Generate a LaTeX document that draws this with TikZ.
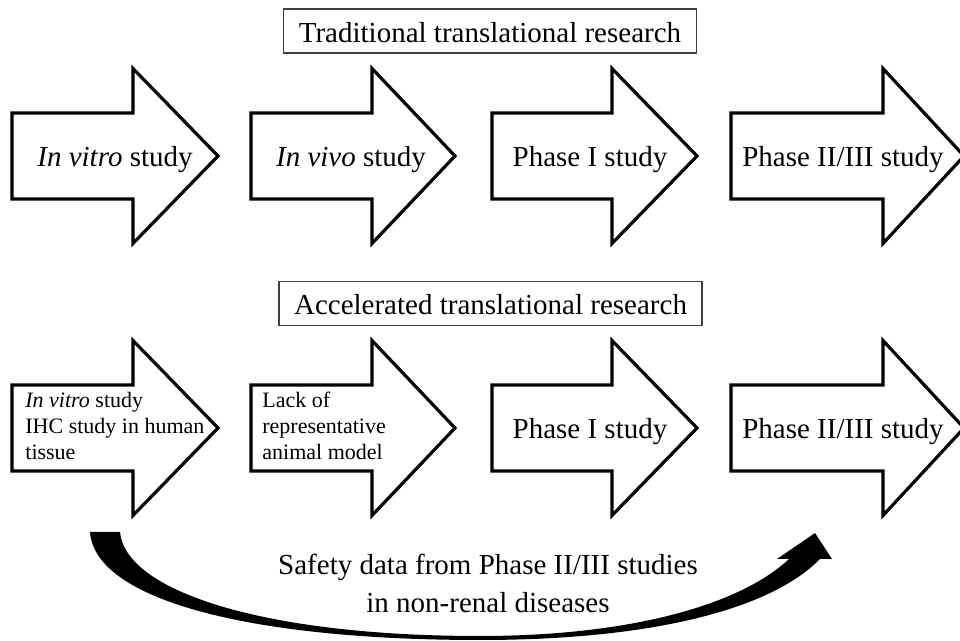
\documentclass[tikz,border=0pt]{standalone}
\usepackage{fontspec}
\setmainfont{Liberation Serif}

\tikzset{
	bigarrow/.style={draw=black, line width=1.6pt, fill=white},
	headbox/.style={draw=black!75, line width=0.6pt, inner xsep=7.5pt, inner ysep=0pt, text height=16.8pt, text depth=5.2pt},
	smalltext/.style={font=\fontsize{11}{13}\selectfont, align=left, inner sep=0pt},
	steptext/.style={inner sep=0pt, anchor=base}
}

\begin{document}
\begin{tikzpicture}[x=0.5pt, y=-0.5pt, font=\fontsize{14.5}{17}\selectfont]
	\def\sh{43}
	\def\hh{87.5}

	\useasboundingbox (0,0) rectangle (960,641);

	% the two rows of block arrows
	\foreach \xl/\xb/\xtip in {12/133/218, 251/372/455, 492/612/697, 731/883/964}{
		\foreach \yc in {156,428}{
			\draw[bigarrow]	(\xl,\yc-\sh) -- (\xb,\yc-\sh) -- (\xb,\yc-\hh) -- (\xtip,\yc)
							-- (\xb,\yc+\hh) -- (\xb,\yc+\sh) -- (\xl,\yc+\sh) -- cycle;
		}
	}

	\node[headbox, anchor=base]	(trad)		at (490,42.7)	{Traditional translational research};
	\node[headbox, anchor=base]	(accel)		at (490.5,315)	{Accelerated translational research};

	\node[steptext]	(vitro)		at (115,167)	{\textit{In vitro} study};
	\node[steptext]	(vivo)		at (351,167)	{\textit{In vivo} study};
	\node[steptext]	(phaseA)	at (590,167)	{Phase I study};
	\node[steptext]	(phaseB)	at (843,167)	{Phase II/III study};

	% multi-line texts sit on the baseline of their last line
	\node[smalltext, anchor=base west]	(ihc)	at (25,460)		{\textit{In vitro} study\\IHC study in human\\tissue};
	\node[smalltext, anchor=base west]	(lack)	at (262,460)	{Lack of\\representative\\animal model};
	\node[steptext]	(phaseC)	at (590,439)	{Phase I study};
	\node[steptext]	(phaseD)	at (843,439)	{Phase II/III study};

	% tapering swoosh underneath
	\fill[black]	(90,532) .. controls (95,600) and (250,640) .. (480,640)
					.. controls (650,640) and (770,610) .. (820,559)
					-- (832,559) -- (815,533) -- (777,559) -- (789,559)
					.. controls (740,605) and (630,636) .. (480,636)
					.. controls (260,636) and (125,590) .. (120,532) -- cycle;

	\node[align=center, font=\fontsize{14.5}{19.3}\selectfont, anchor=base, inner sep=0pt]	(safety)	at (488,613)
		{Safety data from Phase II/III studies\\in non-renal diseases};
\end{tikzpicture}
\end{document}
